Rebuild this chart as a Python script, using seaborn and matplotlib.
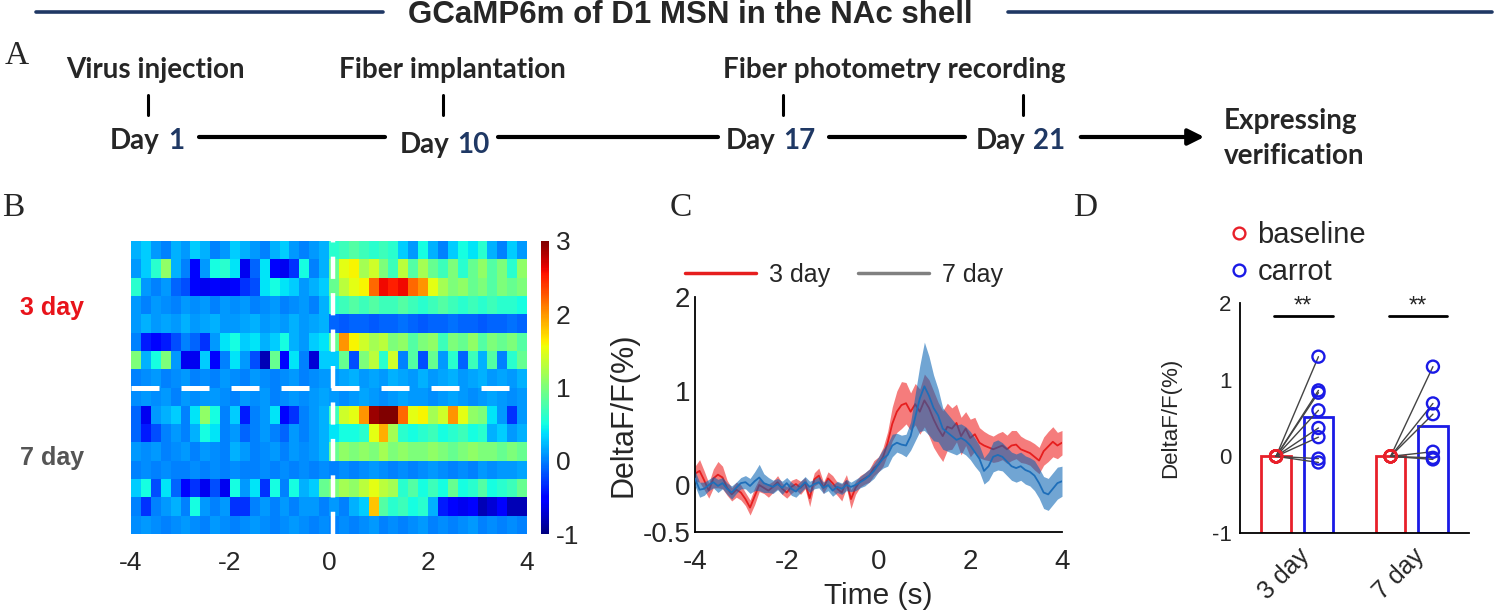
import numpy as np
import pandas as pd
import matplotlib
matplotlib.use('Agg')
import matplotlib.pyplot as plt
from matplotlib.lines import Line2D
import seaborn as sns

# ---------------- data ----------------
timeline_days = [1, 10, 17, 21]
timeline_events = ['Virus injection', 'Fiber implantation', 'Fiber photometry recording']
timeline_end = ['Expressing', 'verification']

# panel B: heat map rows (dF/F), 0.2 s bins from -4 to 4 s
heat_t0, heat_dt = -4.0, 0.2
heat_3day = [
    [0.2, 0.3, 0.1, 0.0, 0.2, 0.1, 0.3, 0.2, 0.0, 0.1, 0.3, 0.2, 0.1, 0.0, 0.2, 0.3, 0.1, 0.0, 0.1, 0.2,
     0.6, 0.7, 0.8, 0.7, 0.6, 0.7, 0.6, 0.3, 0.1, 0.5, 0.2, 0.0, 0.3, 0.5, 0.4, 0.6, 0.2, 0.0, 0.3, 0.1],
    [0.1, 0.3, 0.6, 1.1, 0.2, 0.0, -0.5, 0.1, 0.5, 0.6, 0.4, -0.6, -0.1, 0.4, -0.5, -0.6, -0.3, 0.5, 0.0, 0.2,
     0.9, 1.5, 1.6, 1.2, 1.4, 1.0, 0.7, 1.3, 0.8, 1.2, 0.9, 0.7, 1.0, 0.6, 0.9, 1.1, 0.8, 1.0, 0.6, 1.1],
    [0.6, 0.1, 0.0, 0.1, -0.1, -0.2, -0.5, -0.6, -0.5, -0.6, -0.5, -0.3, -0.2, 0.4, 0.5, 0.4, 0.3, 0.1, 0.2, 0.3,
     0.9, 1.3, 1.5, 1.6, 2.2, 2.6, 2.5, 2.6, 2.2, 2.0, 1.5, 1.2, 1.0, 1.1, 0.9, 1.0, 0.8, 1.0, 0.9, 1.0],
    [0.1, 0.0, 0.1, 0.05, 0.0, 0.1, 0.05, 0.1, 0.0, 0.1, 0.05, 0.1, 0.0, 0.05, 0.1, 0.0, 0.05, 0.1, 0.0, 0.2,
     0.6, 0.7, 0.8, 0.7, 0.8, 0.7, 0.7, 0.8, 0.7, 0.6, 0.7, 0.8, 0.7, 0.6, 0.7, 0.6, 0.7, 0.6, 0.6, 0.5],
    [0.1, 0.2, 0.1, 0.15, 0.1, 0.2, 0.1, 0.15, 0.2, 0.1, 0.1, 0.15, 0.2, 0.1, 0.15, 0.1, 0.2, 0.1, 0.15, 0.2,
     -0.1, -0.15, -0.1, -0.1, -0.15, -0.1, -0.1, -0.05, -0.1, -0.15, -0.1, -0.1, -0.05, -0.1, -0.1, -0.15, -0.1, -0.1, -0.05, -0.1],
    [0.0, -0.4, -0.5, -0.4, -0.2, 0.0, -0.1, -0.3, 0.1, 0.4, 0.5, 0.3, 0.4, 0.2, 0.3, 0.5, 0.2, 0.1, 0.3, 0.4,
     0.9, 2.0, 1.6, 1.4, 1.2, 1.3, 1.0, 1.1, 0.8, 1.0, 1.1, 0.7, 1.0, 0.9, 1.1, 0.8, 1.0, 0.9, 1.0, 0.8],
    [1.0, 0.2, 0.5, 1.0, 0.1, -0.6, -0.6, 0.3, -0.5, 0.0, 0.4, 0.1, -0.2, -0.8, 0.9, -0.5, 0.4, 0.0, -0.7, 0.3,
     0.3, 0.9, -0.2, 1.0, 1.3, 0.6, 1.4, 0.0, 0.8, -0.2, 0.9, 0.1, 0.6, -0.1, 0.7, 0.2, 0.8, 0.0, 0.6, 0.9],
    [0.0, 0.05, 0.1, 0.0, 0.05, 0.1, 0.0, 0.05, 0.0, 0.1, 0.05, 0.0, 0.1, 0.05, 0.0, 0.05, 0.1, 0.0, 0.05, 0.1,
     0.1, 0.15, 0.2, 0.1, 0.15, 0.1, 0.2, 0.15, 0.1, 0.2, 0.1, 0.15, 0.2, 0.1, 0.15, 0.2, 0.1, 0.15, 0.1, 0.2],
]
heat_7day = [
    [0.05, 0.1, 0.05, 0.1, 0.0, 0.1, 0.05, 0.1, 0.1, 0.05, 0.0, 0.1, 0.05, 0.1, 0.0, 0.05, 0.1, 0.05, 0.1, 0.15,
     0.1, 0.05, 0.1, 0.15, 0.1, 0.05, 0.1, 0.15, 0.1, 0.1, 0.05, 0.1, 0.15, 0.1, 0.05, 0.1, 0.15, 0.1, 0.05, 0.1],
    [-0.1, -0.6, 0.1, 0.2, 0.3, 0.0, 0.4, 1.1, 0.5, 0.0, 0.3, -0.4, 0.0, 0.1, 0.4, -0.5, -0.3, 0.0, 0.1, 0.2,
     0.7, 1.4, 1.5, 2.0, 2.9, 3.0, 3.0, 2.2, 1.5, 1.6, 1.2, 1.4, 2.0, 1.5, 1.1, 1.0, 0.4, 0.1, -0.3, 0.1],
    [-0.1, -0.4, -0.2, 0.0, 0.1, 0.0, 0.2, 0.5, 0.4, 0.0, 0.1, -0.1, 0.0, 0.1, 0.0, -0.1, 0.1, 0.0, 0.1, 0.2,
     0.4, 0.5, 0.5, 0.6, 1.5, 1.9, 1.2, 0.6, 0.5, 0.6, 0.7, 0.5, 0.6, 0.7, 0.5, 0.6, 0.2, 0.3, 0.1, 0.2],
    [0.1, 0.05, 0.1, 0.0, 0.05, 0.1, 0.0, 0.1, 0.05, 0.0, 0.2, 0.1, 0.0, 0.05, 0.1, 0.0, 0.1, 0.05, 0.1, 0.2,
     0.9, 1.1, 1.0, 1.1, 1.0, 1.2, 1.0, 1.1, 1.0, 1.0, 1.1, 1.0, 0.9, 1.0, 1.1, 1.0, 1.0, 0.9, 1.0, 0.9],
    [0.0, 0.05, 0.0, 0.05, 0.0, 0.0, 0.05, 0.0, 0.05, 0.0, 0.05, 0.0, 0.0, 0.05, 0.0, 0.05, 0.0, 0.05, 0.0, 0.05,
     0.0, 0.05, 0.0, 0.05, 0.1, 0.05, 0.0, 0.05, 0.0, 0.05, 0.1, 0.05, 0.0, 0.05, 0.0, 0.1, 0.05, 0.1, 0.1, 0.15],
    [0.3, 0.5, -0.2, 0.4, -0.1, -0.5, -0.3, -0.6, -0.2, -0.6, 0.5, 0.1, 0.4, -0.3, 0.5, 0.0, 0.5, 0.2, 0.3, 0.9,
     1.0, 1.2, 1.1, 1.3, 1.5, 1.3, 1.2, 0.6, 0.8, 0.5, 0.7, 0.5, 0.9, 0.5, 0.6, 0.8, 0.5, 0.6, 0.7, 0.9],
    [0.0, -0.3, 0.0, 0.1, 0.2, 0.0, 0.5, 0.1, 0.0, 0.1, -0.3, -0.3, 0.0, 0.1, 0.0, 0.1, 0.0, 0.1, 0.1, 0.0,
     0.1, 0.0, 0.2, 0.3, 1.8, 0.8, 0.6, 0.7, 0.5, 0.6, 0.2, -0.4, -0.5, -0.6, -0.5, -0.8, -0.7, -0.5, -0.8, -0.8],
    [0.05, 0.1, 0.05, 0.0, 0.05, 0.1, 0.05, 0.0, 0.1, 0.05, 0.0, 0.05, 0.1, 0.05, 0.0, 0.05, 0.1, 0.05, 0.0, 0.05,
     0.0, 0.05, 0.0, 0.05, 0.1, 0.0, 0.05, 0.0, 0.05, 0.1, 0.0, 0.05, 0.0, 0.05, 0.1, 0.0, 0.05, 0.0, 0.05, 0.0],
]
heat_xticks = [-4, -2, 0, 2, 4]
cbar_ticks = [-1, 0, 1, 2, 3]
stim_t = 0.08

# panel C: mean +/- sem traces, 0.1 s steps
trace_time = np.round(np.arange(-4.0, 4.05, 0.1), 1)
mean_3day = [0.12, 0.15, 0.05, -0.06, 0.07, 0.11, 0.08, -0.03, -0.10, -0.05,
             -0.08, -0.15, -0.24, -0.12, 0.00, -0.03, -0.06, -0.02, 0.03, -0.04,
             -0.08, -0.02, 0.01, -0.03, 0.02, -0.14, 0.06, 0.10, -0.03, 0.07,
             0.02, -0.04, -0.08, 0.04, -0.15, -0.03, 0.04, 0.07, 0.10, 0.18,
             0.22, 0.30, 0.45, 0.65, 0.78, 0.85, 0.87, 0.78, 0.86, 0.78,
             0.90, 0.82, 0.70, 0.60, 0.52, 0.62, 0.60, 0.66, 0.52, 0.60,
             0.50, 0.54, 0.45, 0.42, 0.40, 0.38, 0.40, 0.42, 0.38, 0.42,
             0.43, 0.38, 0.36, 0.34, 0.30, 0.26, 0.36, 0.41, 0.46, 0.42,
             0.45]
sem_3day = [0.08, 0.12, 0.10, 0.08, 0.10, 0.14, 0.12, 0.08, 0.07, 0.08,
            0.08, 0.07, 0.08, 0.09, 0.07, 0.06, 0.07, 0.06, 0.07, 0.06,
            0.06, 0.07, 0.06, 0.07, 0.06, 0.09, 0.07, 0.08, 0.06, 0.07,
            0.08, 0.07, 0.09, 0.07, 0.10, 0.07, 0.06, 0.06, 0.07, 0.08,
            0.08, 0.10, 0.12, 0.18, 0.22, 0.25, 0.22, 0.20, 0.22, 0.24,
            0.28, 0.30, 0.30, 0.28, 0.27, 0.25, 0.22, 0.20, 0.20, 0.18,
            0.20, 0.18, 0.16, 0.15, 0.14, 0.14, 0.15, 0.15, 0.15, 0.16,
            0.15, 0.14, 0.13, 0.13, 0.14, 0.14, 0.15, 0.16, 0.16, 0.14,
            0.13]
mean_7day = [0.07, -0.05, -0.04, 0.00, 0.03, -0.01, 0.02, -0.04, -0.08, -0.03,
             0.02, 0.03, -0.01, 0.04, 0.08, 0.02, 0.00, -0.02, 0.01, -0.03,
             0.02, -0.04, -0.07, -0.02, 0.03, -0.02, 0.01, 0.03, -0.03, 0.00,
             -0.06, -0.02, -0.04, 0.00, -0.02, 0.00, 0.03, 0.06, 0.10, 0.15,
             0.22, 0.28, 0.32, 0.42, 0.45, 0.43, 0.42, 0.52, 0.72, 0.92,
             1.05, 0.95, 0.82, 0.74, 0.60, 0.56, 0.52, 0.48, 0.50, 0.47,
             0.42, 0.35, 0.28, 0.15, 0.20, 0.30, 0.32, 0.30, 0.25, 0.20,
             0.18, 0.20, 0.16, 0.14, 0.10, 0.02, -0.08, -0.10, -0.04, 0.02,
             0.04]
sem_7day = [0.08, 0.08, 0.07, 0.06, 0.06, 0.07, 0.06, 0.06, 0.07, 0.06,
            0.06, 0.07, 0.08, 0.10, 0.14, 0.10, 0.08, 0.07, 0.06, 0.07,
            0.06, 0.07, 0.06, 0.06, 0.06, 0.06, 0.05, 0.06, 0.06, 0.06,
            0.06, 0.06, 0.06, 0.06, 0.05, 0.06, 0.06, 0.07, 0.07, 0.08,
            0.08, 0.10, 0.12, 0.12, 0.10, 0.10, 0.12, 0.15, 0.25, 0.35,
            0.47, 0.42, 0.35, 0.28, 0.22, 0.20, 0.18, 0.16, 0.15, 0.15,
            0.15, 0.15, 0.14, 0.14, 0.15, 0.16, 0.16, 0.15, 0.15, 0.15,
            0.15, 0.15, 0.15, 0.15, 0.16, 0.16, 0.17, 0.17, 0.17, 0.17,
            0.16]

# panel D: paired values per animal
bar_days = ['3 day', '7 day']
baseline_3day = [0, 0, 0, 0, 0, 0, 0, 0]
carrot_3day = [1.30, 0.86, 0.83, 0.60, 0.37, 0.25, -0.03, -0.08]
baseline_7day = [0, 0, 0, 0, 0, 0]
carrot_7day = [1.17, 0.69, 0.55, 0.06, -0.02, -0.04]

# ---------------- figure ----------------
sns.set_theme(style='white')
plt.rcParams['font.family'] = ['Liberation Sans', 'DejaVu Sans']
plt.rcParams['axes.unicode_minus'] = False

W, H = 1500, 613
fig = plt.figure(figsize=(15, 6.13), dpi=100)


def box(x0, y0, x1, y1):
    return [x0 / W, 1 - y1 / H, (x1 - x0) / W, (y1 - y0) / H]


ov = fig.add_axes([0, 0, 1, 1], zorder=-1)
ov.set_xlim(0, W)
ov.set_ylim(H, 0)
ov.axis('off')

navy = '#1f3864'
serif = ['Liberation Serif', 'DejaVu Serif']

# title with rules
ov.plot([36, 383], [12, 12], color=navy, lw=2.6)
ov.plot([1008, 1492], [12, 12], color=navy, lw=2.6)
ov.text(690, 15, 'GCaMP6m of D1 MSN in the NAc shell', ha='center', va='center',
        fontsize=22.5, fontweight='bold')

# panel A timeline
ov.text(5, 56, 'A', fontsize=24, family=serif, va='center')
tl_font = dict(family=['Lato', 'DejaVu Sans'], fontweight='bold', fontsize=20)
event_x = [155, 452, 894]
tick_x = [148, 443, 783, 1023]
num_x = [168, 457, 783, 1033]
day_y = [141, 145, 141, 141]
for ev, x in zip(timeline_events, event_x):
    ov.text(x, 70, ev, ha='center', va='center', **tl_font)
for x in tick_x:
    ov.plot([x, x], [95, 115], color='black', lw=2.2)
for d, x, y in zip(timeline_days, num_x, day_y):
    ov.text(x - 8, y, 'Day', ha='right', va='center', **tl_font)
    ov.text(x, y, str(d), ha='left', va='center', color=navy, **tl_font)
for x0, x1 in [(199, 385), (498, 718), (829, 965)]:
    ov.plot([x0, x1], [137, 137], color='black', lw=3)
ov.annotate('', xy=(1207, 137), xytext=(1078, 137),
            arrowprops=dict(arrowstyle='-|>,head_length=0.8,head_width=0.4', color='black', lw=3))
ov.text(1224, 121, timeline_end[0], ha='left', va='center', **tl_font)
ov.text(1224, 156, timeline_end[1], ha='left', va='center', **tl_font)

# panel B heat map
ov.text(2, 208, 'B', fontsize=24, family=serif, va='center')
ax_b = fig.add_axes(box(131, 241, 527, 534))
cax = fig.add_axes(box(541, 241, 549, 534))
heat = np.array(heat_3day + heat_7day)
sns.heatmap(heat, ax=ax_b, cbar_ax=cax, cmap='jet', vmin=-1, vmax=3,
            xticklabels=False, yticklabels=False, cbar_kws={'ticks': cbar_ticks})
ax_b.set_xticks([(t - heat_t0) / heat_dt for t in heat_xticks])
ax_b.set_xticklabels([str(t) for t in heat_xticks], rotation=0)
ax_b.tick_params(axis='x', length=0, labelsize=19, pad=12)
ax_b.axhline(len(heat_3day), color='white', lw=3.6, dashes=(5.6, 4.4))
ax_b.axvline((stim_t - heat_t0) / heat_dt, color='white', lw=3.2, dashes=(5, 3.2))
cbar = ax_b.collections[0].colorbar
cbar.outline.set_visible(False)
cax.tick_params(length=0, labelsize=19, pad=5)
ov.text(20, 308, '3 day', color='#e8141b', fontsize=18, fontweight='bold', va='center')
ov.text(20, 458, '7 day', color='#555555', fontsize=18, fontweight='bold', va='center')

# panel C traces
ov.text(670, 208, 'C', fontsize=24, family=serif, va='center')
ax_c = fig.add_axes(box(695, 297, 1062, 532))
n = len(trace_time)
df_c = pd.DataFrame({'time': np.concatenate([trace_time, trace_time]),
                     'mean': mean_3day + mean_7day,
                     'sem': sem_3day + sem_7day,
                     'group': ['3 day'] * n + ['7 day'] * n})
trace_style = {'3 day': ('#e61e1e', '#ee1e1e'), '7 day': ('#1e6eb9', '#0a64b4')}
z = 1
for grp, sub in df_c.groupby('group'):
    line_c, fill_c = trace_style[grp]
    ax_c.fill_between(sub['time'], sub['mean'] - sub['sem'], sub['mean'] + sub['sem'],
                      color=fill_c, alpha=0.58, lw=0, zorder=z)
    sns.lineplot(data=sub, x='time', y='mean', color=line_c, lw=1.3, ax=ax_c, zorder=z + 1)
    z += 2
ax_c.set_xlim(-4, 4)
ax_c.set_ylim(-0.5, 2)
ax_c.set_xticks([-4, -2, 0, 2, 4])
ax_c.set_yticks([-0.5, 0, 1, 2])
ax_c.set_yticklabels(['-0.5', '0', '1', '2'])
ax_c.set_xlabel('Time (s)', fontsize=21.5, labelpad=5)
ax_c.set_ylabel('DeltaF/F(%)', fontsize=22, labelpad=3)
ax_c.tick_params(direction='in', length=4, width=1.2, labelsize=20, color='black')
ax_c.tick_params(axis='x', pad=12)
sns.despine(ax=ax_c)
for s in ['left', 'bottom']:
    ax_c.spines[s].set_color('black')
    ax_c.spines[s].set_linewidth(1.3)
leg_c = [Line2D([], [], color='#e61e1e', lw=2.5), Line2D([], [], color='#808080', lw=2.5)]
fig.legend(leg_c, ['3 day', '7 day'], loc='center left', bbox_to_anchor=(685 / W, 1 - 275 / H),
           ncol=2, frameon=False, fontsize=18, handlelength=2.84, handletextpad=0.52,
           columnspacing=1.1, borderpad=0, borderaxespad=0)

# panel D paired bars
ov.text(1073, 208, 'D', fontsize=24, family=serif, va='center')
ax_d = fig.add_axes(box(1240, 303, 1469, 533))
rows = []
for day, base, car in [('3 day', baseline_3day, carrot_3day), ('7 day', baseline_7day, carrot_7day)]:
    for i, (b, c) in enumerate(zip(base, car)):
        rows.append({'day': day, 'condition': 'baseline', 'value': b, 'animal': i})
        rows.append({'day': day, 'condition': 'carrot', 'value': c, 'animal': i})
df_d = pd.DataFrame(rows)
pal_d = {'baseline': '#e8202a', 'carrot': '#1a1ae6'}
sns.barplot(data=df_d, x='day', y='value', hue='condition', order=bar_days,
            hue_order=['baseline', 'carrot'], palette=pal_d, fill=False, errorbar=None,
            width=0.74, gap=0.3, linewidth=2, ax=ax_d, legend=False)
centers = {}
for p in ax_d.patches:
    xc = p.get_x() + p.get_width() / 2
    day_i = int(round(xc))
    cond = 'baseline' if xc < day_i else 'carrot'
    centers[(bar_days[day_i], cond)] = xc
    h = p.get_height()
    p.set_y(-1)
    p.set_height(h + 1)
for day, sub in df_d.groupby('day'):
    xb, xc = centers[(day, 'baseline')], centers[(day, 'carrot')]
    wide = sub.pivot(index='animal', columns='condition', values='value')
    for _, r in wide.iterrows():
        ax_d.plot([xb, xc], [r['baseline'], r['carrot']], color='#444444', lw=1, zorder=3)
    ax_d.scatter([xb] * len(wide), wide['baseline'], s=75, facecolors='none',
                 edgecolors=pal_d['baseline'], linewidths=1.7, zorder=4)
    ax_d.scatter([xc] * len(wide), wide['carrot'], s=75, facecolors='none',
                 edgecolors=pal_d['carrot'], linewidths=1.7, zorder=4)
for i in range(len(bar_days)):
    ax_d.plot([i - 0.2, i + 0.31], [1.83, 1.83], color='black', lw=2)
    ax_d.text(i + 0.05, 1.88, '**', ha='center', va='baseline', fontsize=17)
ax_d.set_xlim(-0.5, 1.5)
ax_d.set_ylim(-1, 2)
ax_d.set_yticks([-1, 0, 1, 2])
ax_d.set_xlabel('')
ax_d.set_ylabel('DeltaF/F(%)', fontsize=16, labelpad=22)
ax_d.set_xticks(range(len(bar_days)))
ax_d.set_xticklabels(bar_days, rotation=45, ha='right', rotation_mode='anchor')
ax_d.tick_params(axis='x', length=0, labelsize=18, pad=8)
ax_d.tick_params(axis='y', length=3, width=1.2, labelsize=16, pad=3, color='black', direction='out')
sns.despine(ax=ax_d)
for s in ['left', 'bottom']:
    ax_d.spines[s].set_color('black')
    ax_d.spines[s].set_linewidth(1.3)
leg_d = [Line2D([], [], ls='', marker='o', ms=8.5, mfc='none', mec=pal_d['baseline'], mew=1.7),
         Line2D([], [], ls='', marker='o', ms=8.5, mfc='none', mec=pal_d['carrot'], mew=1.7)]
fig.legend(leg_d, ['baseline', 'carrot'], loc='upper left', bbox_to_anchor=(1227 / W, 1 - 221 / H),
           frameon=False, fontsize=21, handlelength=0.8, handletextpad=0.24,
           labelspacing=0.3, borderpad=0, borderaxespad=0)

fig.savefig('out.png', dpi=100)
